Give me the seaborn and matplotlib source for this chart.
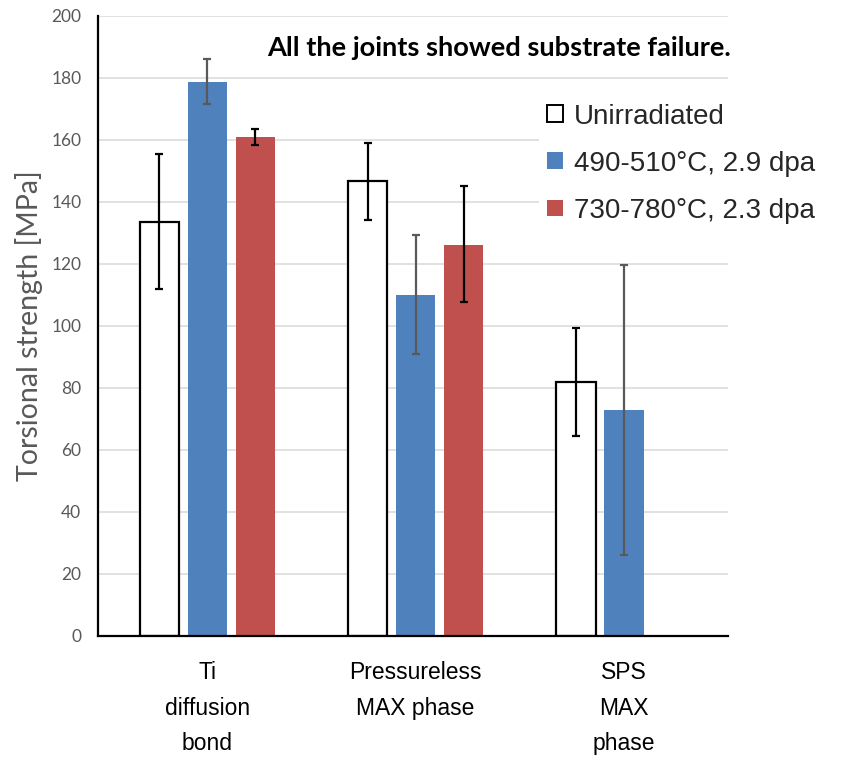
import matplotlib
matplotlib.use("Agg")
import matplotlib.pyplot as plt
import pandas as pd
import seaborn as sns
from matplotlib.patches import Patch

# Joint types and irradiation conditions
joints = ["Ti\ndiffusion\nbond", "Pressureless\nMAX phase", "SPS\nMAX\nphase"]
conditions = ["Unirradiated", "490-510°C, 2.9 dpa", "730-780°C, 2.3 dpa"]

# Mean torsional strength [MPa] and error-bar limits per condition
unirradiated = [133.5, 146.6, 81.9]
unirradiated_low = [111.8, 134.2, 64.5]
unirradiated_high = [155.4, 159.0, 99.2]

irr_500 = [178.7, 110.0, 72.7]
irr_500_low = [171.6, 90.8, 26.0]
irr_500_high = [186.0, 129.2, 119.6]

irr_750 = [160.8, 126.0, None]
irr_750_low = [158.3, 107.5, None]
irr_750_high = [163.5, 145.0, None]

bar_colors = ["#FFFFFF", "#4F81BD", "#C0504D"]
err_colors = ["#000000", "#595959", "#000000"]

series = [
    (unirradiated, unirradiated_low, unirradiated_high),
    (irr_500, irr_500_low, irr_500_high),
    (irr_750, irr_750_low, irr_750_high),
]

rows = []
for cond, (vals, lows, highs) in zip(conditions, series):
    for j, v, lo, hi in zip(joints, vals, lows, highs):
        if v is None:
            continue
        rows.append({"joint": j, "condition": cond, "strength": v, "low": lo, "high": hi})
df = pd.DataFrame(rows)

sns.set_theme(style="white")
plt.rcParams["font.family"] = ["Liberation Sans", "DejaVu Sans"]

fig = plt.figure(figsize=(8.58, 7.6), dpi=100)
ax = fig.add_axes([0.1142, 0.1632, 0.7343, 0.8164])

sns.barplot(
    data=df, x="joint", y="strength", hue="condition",
    order=joints, hue_order=conditions, palette=bar_colors,
    saturation=1, width=0.69, gap=0.18, errorbar=None,
    legend=False, ax=ax, zorder=2,
)

# Outline the unirradiated bars, then add asymmetric error bars
for ci, (cond, container) in enumerate(zip(conditions, ax.containers)):
    for patch in container.patches:
        if ci == 0:
            patch.set_edgecolor("black")
            patch.set_linewidth(1.6)
        else:
            patch.set_linewidth(0)
        xc = patch.get_x() + patch.get_width() / 2
        joint = joints[int(round(xc))]
        r = df[(df.joint == joint) & (df.condition == cond)].iloc[0]
        ax.errorbar(
            xc, r.strength,
            yerr=[[r.strength - r.low], [r.high - r.strength]],
            fmt="none", ecolor=err_colors[ci], elinewidth=1.6,
            capsize=3.2, capthick=1.6, zorder=3,
        )

ax.set_xlim(-0.525, 2.5)
ax.set_ylim(0, 200)
ax.set_yticks(range(0, 201, 20))
ax.yaxis.grid(True, color="#D9D9D9", linewidth=1.1, zorder=0)
ax.set_axisbelow(True)
ax.tick_params(axis="both", length=0)
ax.tick_params(axis="y", labelsize=12.5, labelcolor="#595959", pad=12)
ax.tick_params(axis="x", labelsize=16.5, labelcolor="black", pad=18)
for lab in ax.get_yticklabels():
    lab.set_family(["Lato", "DejaVu Sans"])
for lab in ax.get_xticklabels():
    lab.set_linespacing(1.7)
ax.set_xlabel("")
ax.set_ylabel("Torsional strength [MPa]", fontsize=20.5, color="#595959",
              family=["Lato", "DejaVu Sans"], labelpad=6)

for side in ["top", "right"]:
    ax.spines[side].set_visible(False)
for side in ["left", "bottom"]:
    ax.spines[side].set_color("black")
    ax.spines[side].set_linewidth(1.6)

handles = [
    Patch(facecolor=bar_colors[0], edgecolor="black", linewidth=1.4),
    Patch(facecolor=bar_colors[1], edgecolor="none"),
    Patch(facecolor=bar_colors[2], edgecolor="none"),
]
leg = fig.legend(
    handles, conditions, loc="upper left", bbox_to_anchor=(0.612, 0.893),
    fontsize=20, frameon=True, facecolor="white", edgecolor="none",
    framealpha=1, fancybox=False, borderpad=0.3,
    handlelength=0.55, handleheight=0.55, handletextpad=0.4, labelspacing=0.76,
)

fig.text(0.582, 0.937, "All the joints showed substrate failure.",
         ha="center", va="center", fontsize=19.6, fontweight="bold",
         family=["Lato", "DejaVu Sans"], color="black")

fig.savefig("out.png", dpi=100)
